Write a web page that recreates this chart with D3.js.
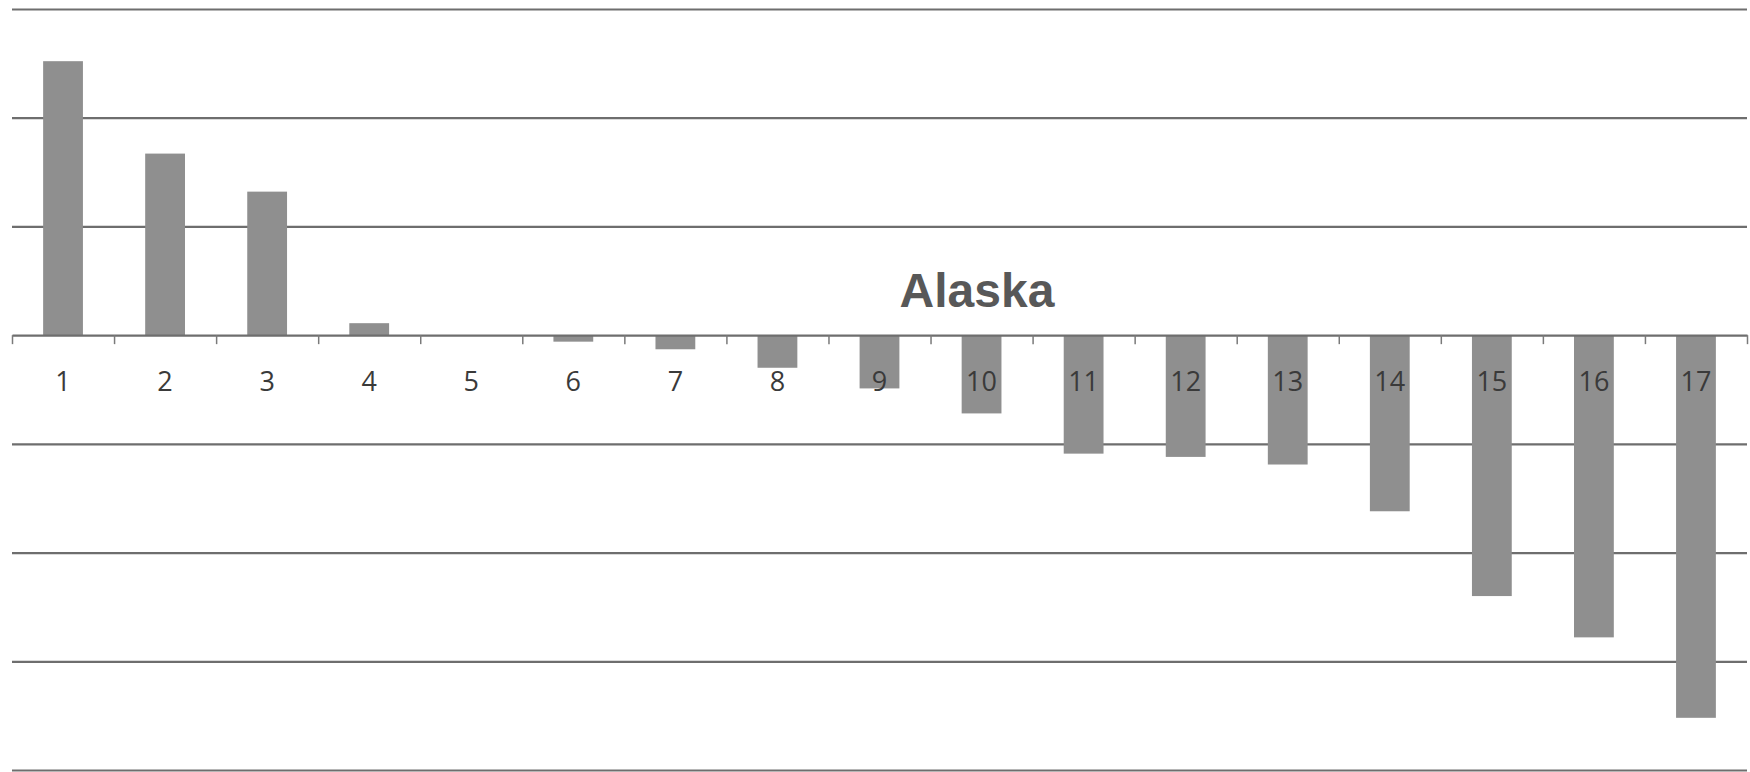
<!DOCTYPE html>
<html>
<head>
<meta charset="utf-8">
<script src="https://cdn.jsdelivr.net/npm/d3@7"></script>
<style>
  html, body { margin: 0; padding: 0; background: #ffffff; }
  svg { display: block; }
</style>
</head>
<body>
<svg id="chart" width="1750" height="772"></svg>
<script>
const categories = ["1","2","3","4","5","6","7","8","9","10","11","12","13","14","15","16","17"];
const values = [2.52, 1.67, 1.32, 0.11, 0, -0.06, -0.13, -0.30, -0.49, -0.72, -1.09, -1.12, -1.19, -1.62, -2.40, -2.78, -3.52];
const gridValues = [-4, -3, -2, -1, 1, 2, 3];
const title = "Alaska";

const svg = d3.select("#chart");
const plotLeft = 12, plotRight = 1747, plotTop = 9, plotBottom = 770;

const x = d3.scaleBand().domain(categories).range([plotLeft, plotRight])
  .paddingInner(0.61).paddingOuter(0.305);
const xLin = d3.scaleLinear().domain([0, categories.length]).range([plotLeft, plotRight]);
const y = d3.scaleLinear().domain([-4, 3]).range([plotBottom, plotTop]);

// gridlines
const grid = svg.append("g").attr("transform", `translate(${plotLeft},0)`)
  .call(d3.axisLeft(y).tickValues(gridValues).tickSize(-(plotRight - plotLeft)).tickFormat(""));
grid.select(".domain").remove();
grid.selectAll("line").attr("stroke", "#6e6e6e").attr("stroke-width", 2.2);

// bars
svg.append("g").selectAll("rect").data(values).join("rect")
  .attr("x", (d, i) => x(categories[i]))
  .attr("width", x.bandwidth())
  .attr("y", d => y(Math.max(0, d)))
  .attr("height", d => Math.abs(y(d) - y(0)))
  .attr("fill", "#8f8f8f");

// axis line with ticks at category boundaries
const ticks = svg.append("g").attr("transform", `translate(0,${y(0)})`)
  .call(d3.axisBottom(xLin).tickValues(d3.range(categories.length + 1)).tickSize(9).tickSizeOuter(0).tickFormat(""));
ticks.select(".domain").attr("stroke", "#6e6e6e").attr("stroke-width", 2.2);
ticks.selectAll(".tick line").attr("stroke", "#7a7a7a").attr("stroke-width", 1.5);

// category labels
const labels = svg.append("g").attr("transform", `translate(0,${y(0)})`)
  .call(d3.axisBottom(x).tickSize(0).tickPadding(37));
labels.select(".domain").remove();
labels.selectAll("text")
  .attr("font-family", "'Open Sans', 'Liberation Sans', sans-serif")
  .attr("font-size", 27)
  .attr("fill", "#3a3a3a");

// title
svg.append("text")
  .attr("x", 977).attr("y", 307)
  .attr("text-anchor", "middle")
  .attr("font-family", "'Liberation Sans', Arial, sans-serif")
  .attr("font-weight", "bold")
  .attr("font-size", 48)
  .attr("fill", "#585858")
  .text(title);
</script>
</body>
</html>
